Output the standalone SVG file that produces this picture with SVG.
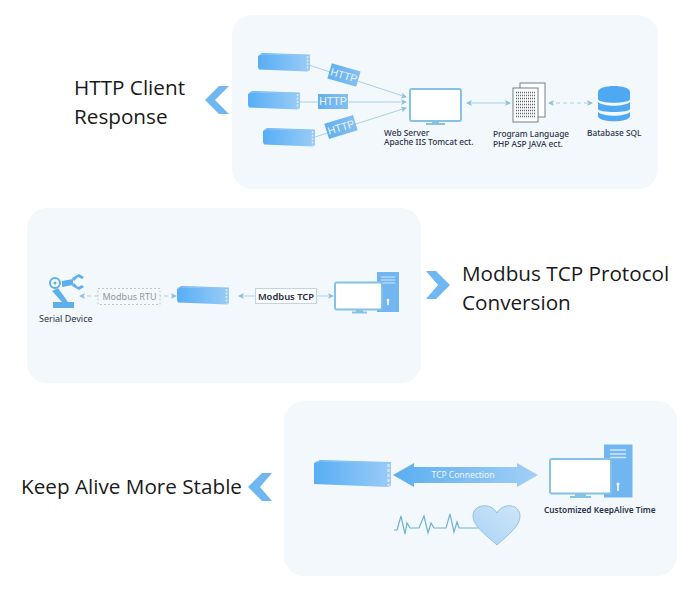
<svg xmlns="http://www.w3.org/2000/svg" width="696" height="600" viewBox="0 0 696 600">
<style>
.panel{fill:#f3f8fd}
.t{font-family:"Open Sans","Noto Sans",sans-serif;font-size:20.7px;fill:#1a1a1a}
.s{font-family:"Noto Sans","Open Sans",sans-serif;font-size:8.3px;font-weight:500;fill:#2b3348}
.h{font-family:"Liberation Sans",sans-serif;font-size:10.5px;fill:#eaf5ff;text-anchor:middle}
.ln{stroke:#a9cfe4;stroke-width:1;fill:none}
.lnd{stroke:#a9cfe4;stroke-width:1;fill:none;stroke-dasharray:4 3}
.mon{fill:#fff;stroke:#86c2e4;stroke-width:2}
.st{fill:#86c2e4}
.tag{fill:url(#tw)}
.chev{fill:#6fb7f0}
</style>
<defs>
<linearGradient id="g" x1="0" x2="1" y1="0" y2="0"><stop offset="0" stop-color="#57aef5"/><stop offset="1" stop-color="#9accf6"/></linearGradient>
<linearGradient id="tw" x1="0" x2="1" y1="0" y2="0"><stop offset="0" stop-color="#62b0ef"/><stop offset="1" stop-color="#86bff0"/></linearGradient>
<linearGradient id="ar" x1="0" x2="1" y1="0" y2="0"><stop offset="0" stop-color="#5aaef2"/><stop offset="1" stop-color="#a2cff5"/></linearGradient>
<linearGradient id="hg" x1="0" x2="1" y1="1" y2="0"><stop offset="0" stop-color="#a9d3f5"/><stop offset="1" stop-color="#cfe5f8"/></linearGradient>
<marker id="a" markerWidth="6" markerHeight="6" refX="5" refY="3" orient="auto-start-reverse"><path d="M0 0L6 3L0 6L1.500 3Z" fill="#8fc0dc"/></marker>
<g id="dev">
<path d="M0 3L4 0L52 1.500V17L50 18.500L1 16.500L0 14Z" fill="url(#g)"/>
<path d="M1 2.500L4 1L51 2.500" fill="none" stroke="#8cc6f5" stroke-width="1"/>
<path d="M49.500 3V17.500" stroke="#d8ebfb" stroke-width="1.500" stroke-dasharray="2 1.500"/>
</g>
</defs>

<rect class="panel" x="232" y="15" width="426" height="174" rx="20"/>
<rect class="panel" x="27" y="208" width="394" height="175" rx="20"/>
<rect class="panel" x="284" y="401" width="393" height="175" rx="20"/>

<g id="connectors">
<path class="ln" d="M309 65L406 97" marker-end="url(#a)"/>
<path class="ln" d="M299 102H406" marker-end="url(#a)"/>
<path class="ln" d="M315 137L406 108" marker-end="url(#a)"/>
<path class="ln" d="M467 103H510" marker-start="url(#a)" marker-end="url(#a)"/>
<path class="lnd" d="M549 103H592" marker-start="url(#a)" marker-end="url(#a)"/>
<path class="lnd" d="M80 296H176" marker-start="url(#a)" marker-end="url(#a)"/>
<path class="ln" d="M239 296H333" marker-start="url(#a)" marker-end="url(#a)"/>
</g>

<g id="http-title"><text class="t" x="74" y="95">HTTP Client</text><text class="t" x="74" y="124">Response</text></g>
<polygon id="chev1" class="chev" points="229,86 219,86 205,100 219,114 229,114 215,100"/>

<g id="client1"><use href="#dev" x="258" y="53"/></g>
<g id="client2"><use href="#dev" x="248" y="91"/></g>
<g id="client3"><use href="#dev" x="263" y="128"/></g>
<g id="http1"><g transform="rotate(16 344 75)"><rect class="tag" x="329" y="67" width="30" height="16"/><text class="h" x="344" y="79">HTTP</text></g></g>
<g id="http2"><rect class="tag" x="318" y="94" width="30" height="15"/><text class="h" x="333" y="105">HTTP</text></g>
<g id="http3"><g transform="rotate(-17 341 127)"><rect class="tag" x="326" y="119" width="30" height="16"/><text class="h" x="341" y="131">HTTP</text></g></g>

<g id="web-server">
<rect class="mon" x="410" y="89" width="51" height="32" rx="2"/>
<rect class="st" x="432" y="121" width="7" height="3"/><rect class="st" x="426" y="123" width="19" height="2"/>
<text class="s" x="384" y="135.500">Web Server</text><text class="s" x="384" y="145">Apache IIS Tomcat ect.</text>
</g>

<g id="program">
<rect x="520" y="83" width="25" height="34" fill="#fff" stroke="#6f7f8f"/>
<rect x="513" y="88" width="25" height="34" fill="#fff" stroke="#6f7f8f"/>
<path d="M516 92.500H535M516 95.500H535M516 98.500H535M516 101.500H535M516 104.500H535M516 107.500H535M516 110.500H535M516 113.500H535M516 116.500H535" stroke="#56616f" stroke-width="1.500" stroke-dasharray="1 1" fill="none"/>
<text class="s" x="493" y="137">Program Language</text><text class="s" x="493" y="147">PHP ASP JAVA ect.</text>
</g>

<g id="database">
<path d="M598 92C598 84 630 84 630 92V99C630 104 598 104 598 99Z" fill="#4ea9f2"/>
<path d="M598 102C604 107 624 107 630 102V109C630 113 598 113 598 109Z" fill="#4ea9f2"/>
<path d="M598 112C604 117 624 117 630 112V116C630 123 598 123 598 116Z" fill="#4ea9f2"/>
<text class="s" x="587" y="136">Batabase SQL</text>
</g>

<g id="serial-device">
<g fill="#5fb0ea">
<circle cx="55" cy="283" r="5" fill="none" stroke="#5fb0ea" stroke-width="2"/><circle cx="55" cy="283" r="1.500"/>
<path d="M62 281L73 279V285L62 287Z"/>
<path d="M72 278L79 274L84 277L82 279L78 277L74 281ZM72 286L79 290L84 287L82 285L78 287L74 283Z"/>
<path d="M52 291L58 288L68 302H62Z"/>
<rect x="53" y="302" width="21" height="6"/>
</g>
<text class="s" x="39" y="322" style="font-size:9px;font-weight:400">Serial Device</text>
</g>
<g id="modbus-rtu"><rect x="98" y="288.500" width="62" height="16" fill="#f3f8fd" stroke="#b9c9d4" stroke-dasharray="2 2"/><text x="129.500" y="300" text-anchor="middle" font-family="Noto Sans,sans-serif" font-size="9" fill="#8d98a3">Modbus RTU</text></g>
<g id="gateway"><use href="#dev" x="177" y="286"/></g>
<g id="modbus-tcp"><rect x="255.500" y="288.500" width="61" height="15" fill="#fff" stroke="#bcd6e6"/><text x="286" y="300" text-anchor="middle" font-family="Noto Sans,sans-serif" font-size="9.400" font-weight="600" fill="#252c45">Modbus TCP</text></g>
<g id="pc1">
<rect x="377" y="272" width="22" height="40" fill="#71b6f1"/>
<path d="M381 277H395M381 280H395M381 283H395" stroke="#cfe6fa" stroke-width="1.200"/>
<path d="M388 305V299" stroke="#fff" stroke-width="1.500"/><circle cx="388" cy="300" r="1.300" fill="#fff"/>
<rect class="mon" x="335" y="282.500" width="47" height="27" rx="2"/>
<rect class="st" x="356" y="310" width="7" height="2"/><rect class="st" x="352" y="311.500" width="15" height="2"/>
</g>

<g id="modbus-title"><text class="t" x="462" y="281">Modbus TCP Protocol</text><text class="t" x="462" y="310">Conversion</text></g>
<polygon id="chev2" class="chev" points="426,271 436,271 450,285 436,299 426,299 438,285"/>

<g id="keep-title"><text class="t" x="21" y="494">Keep Alive More Stable</text></g>
<polygon id="chev3" class="chev" points="272,473 262,473 248,487 262,501 272,501 260,487"/>

<g id="gateway2">
<path d="M314 463L320 460L391 462V486L388 487L314 484Z" fill="url(#g)"/>
<path d="M315 462.500L320 461L390 463" fill="none" stroke="#8cc6f5"/>
<path d="M388.500 464V486" stroke="#d8ebfb" stroke-width="2" stroke-dasharray="3 2"/>
</g>
<g id="tcp-connection">
<polygon points="393,475 414,463 414,467 517,467 517,463 538,475 517,487 517,483 414,483 414,487" fill="url(#ar)"/>
<text x="463" y="478" text-anchor="middle" font-family="Noto Sans,sans-serif" font-size="8.500" fill="#eef7ff">TCP Connection</text>
</g>
<g id="heartbeat">
<path d="M394 530L397 530L401 516L405 534L407 523L410 528H419L424 516L428 533L431 523L434 528H446L450 514L454 532L457 522L459 528H478" fill="none" stroke="#6fb3d0" stroke-width="1.200"/>
<path d="M497 545C486 535 473 526 473 516C473 504 491 502 497 513C503 502 520 504 520 516C520 526 508 535 497 545Z" fill="url(#hg)" stroke="#8fc3e0"/>
</g>
<g id="pc2">
<rect x="604" y="444.500" width="28.500" height="53" fill="#71b6f1"/>
<path d="M610 450H626M610 454H626M610 457.500H626" stroke="#cfe6fa" stroke-width="1.300"/>
<path d="M618 491V483" stroke="#fff" stroke-width="1.500"/><circle cx="618" cy="484" r="1.500" fill="#fff"/>
<rect class="mon" x="550" y="459" width="61" height="34.500" rx="2"/>
<rect class="st" x="575" y="494" width="11" height="3"/><rect class="st" x="570" y="496" width="21" height="2"/>
<text class="s" x="544" y="513" style="font-size:8.300px;font-weight:600">Customized KeepAlive Time</text>
</g>
</svg>
